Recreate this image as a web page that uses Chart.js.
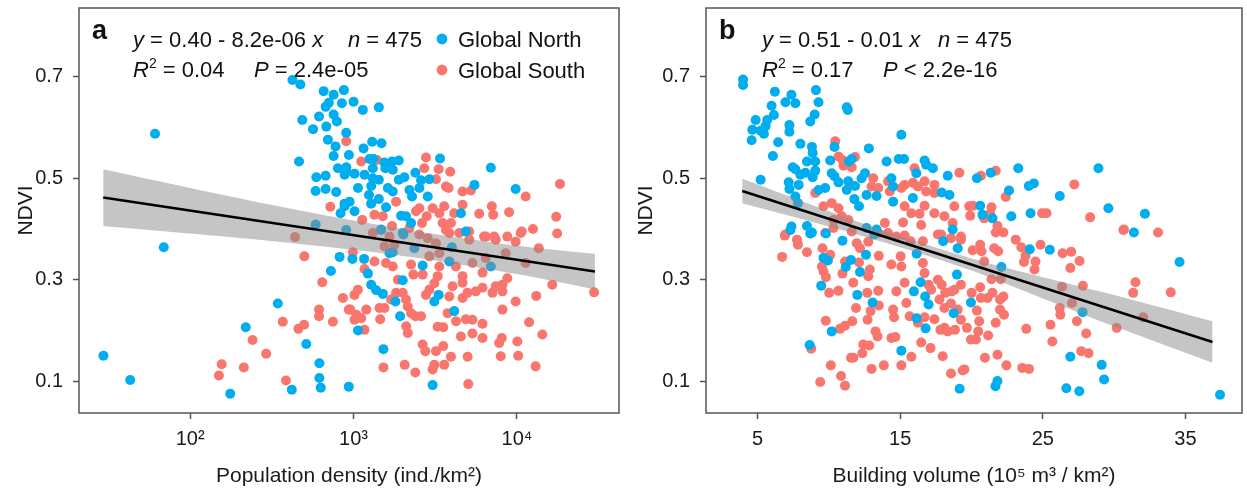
<!DOCTYPE html>
<html lang="en">
<head>
  <meta charset="UTF-8">
  <title>NDVI vs population density and building volume</title>
  <script src="https://cdn.jsdelivr.net/npm/chart.js"></script>
  <style>
    html, body { margin: 0; padding: 0; background: #fff; }
    #wrap { position: relative; width: 1247px; height: 492px; }
    .panel { position: absolute; top: 0; height: 492px; }
    #panelA { left: 0; width: 624px; }
    #panelB { left: 624px; width: 623px; }
  </style>
</head>
<body>
<div id="wrap">
  <div class="panel" id="panelA"><canvas id="chartA" width="624" height="492"></canvas></div>
  <div class="panel" id="panelB"><canvas id="chartB" width="623" height="492"></canvas></div>
</div>

<script>
const BLUE = "#00AEEF";
const RED = "#F8766D";
const FONT = "'Liberation Sans', Arial, sans-serif";

// ---- axis ticks ----
const ndviTicks = [0.1, 0.3, 0.5, 0.7];
const densityTicks = [100, 1000, 10000];
const densityTickLabels = ["10\u00B2", "10\u00B3", "10\u2074"];
const volumeTicks = [5, 15, 25, 35];

// ---- panel a: population density vs NDVI ----
const northA = [
  [61,0.588],[423,0.694],[473,0.685],[656,0.672],[755,0.665],[706,0.649],[675,0.641],[849,0.648],[486,0.615],[615,0.622],
  [755,0.626],[791,0.612],[681,0.602],[565,0.597],[697,0.576],[776,0.563],[755,0.544],[902,0.590],[464,0.533],[802,0.520],
  [902,0.513],[592,0.502],[675,0.505],[586,0.475],[675,0.479],[783,0.473],[881,0.450],[833,0.431],[586,0.409],[902,0.398],
  [69,0.364],[822,0.345],[727,0.317],[344,0.253],[219,0.206],[514,0.173],[29.5,0.150],[43,0.102],[176,0.075],[618,0.135],
  [618,0.106],[419,0.083],[630,0.087],[935,0.089],
  [984,0.341],[1161,0.341],[1225,0.312],[1282,0.290],[1376,0.279],[1511,0.272],[1805,0.257],[1927,0.228],[1065,0.200],[1524,0.163],
  [2000,0.299],[2648,0.328],[3318,0.270],[3120,0.257],[4130,0.238],[3048,0.092],[6918,0.326],[3855,0.336],[1660,0.352],[1738,0.354],
  [2018,0.389],[1476,0.398],[2355,0.362],[4000,0.364],[4864,0.395],
  [873,0.674],[1000,0.651],[1140,0.635],[1428,0.640],[1300,0.572],[1483,0.569],[1151,0.559],[937,0.546],[1253,0.538],[1325,0.538],
  [1312,0.520],[1545,0.531],[1721,0.533],[1892,0.535],[1567,0.520],[1738,0.517],[903,0.522],[882,0.507],[1014,0.509],[1167,0.507],
  [1065,0.481],[1312,0.500],[1428,0.497],[1282,0.485],[1622,0.481],[1738,0.474],[1428,0.459],[1242,0.467],[1282,0.450],[946,0.454],
  [882,0.445],[1014,0.435],[1581,0.443],[1954,0.426],[1892,0.497],[2047,0.502],[2388,0.511],[2198,0.477],[2280,0.464],[2529,0.481],
  [2588,0.496],[2844,0.464],[2910,0.498],[3381,0.539],[2249,0.412],[2094,0.425],[1476,0.399],[2000,0.392],[4540,0.431],[5495,0.487],
  [6918,0.521],[9817,0.479]
];
const southA = [
  [902,0.573],[721,0.444],[439,0.384],
  [500,0.346],[644,0.295],[861,0.264],[935,0.241],[615,0.241],[615,0.228],[369,0.217],[498,0.211],[460,0.203],[748,0.217],[241,0.181],
  [292,0.154],[156,0.133],[213,0.127],[150,0.111],[386,0.101],
  [1014,0.270],[1063,0.280],[955,0.241],[1040,0.231],[1014,0.221],[1114,0.224],[1197,0.241],[1167,0.201],[1442,0.244],[1546,0.244],
  [1455,0.222],[1698,0.261],[1820,0.274],[2000,0.274],[2094,0.261],[2146,0.247],[2249,0.234],[2390,0.228],[2588,0.228],[2098,0.208],
  [2148,0.195],[2648,0.172],[2748,0.159],[3194,0.159],[3540,0.169],[3945,0.148],[3589,0.132],[3120,0.132],[3048,0.123],[2388,0.117],
  [2056,0.132],[1524,0.127],[5035,0.094],[4990,0.148],[3272,0.207],[3540,0.206],[4240,0.218],[4864,0.222],[5340,0.221],[4540,0.188],
  [5340,0.194],[6155,0.185],[6155,0.213],[3765,0.234],[3855,0.267],[4645,0.264],[4980,0.274],[5600,0.277],[6155,0.284],[7080,0.274],
  [8150,0.277],[8730,0.303],[8150,0.290],[7413,0.287],[9817,0.257],[8150,0.241],[11860,0.216],[14290,0.192],[8070,0.185],[7780,0.175],
  [10050,0.178],[7960,0.149],[10180,0.150],[13000,0.129],[13120,0.268],[16440,0.290],[29650,0.275],[17620,0.391],[10540,0.392],[9817,0.375],
  [13600,0.362],[11300,0.333],[8530,0.352],[6155,0.314],[4645,0.294],[4645,0.307],[5340,0.333],[6440,0.343],[3350,0.326],[3272,0.307],
  [3120,0.293],[2910,0.280],[2775,0.270],[2648,0.310],[2323,0.310],[2249,0.330],[2910,0.346],[3350,0.352],[3194,0.372],[2844,0.382],
  [3855,0.392],[6440,0.385],[7413,0.379],[1778,0.369],[1546,0.366],[1343,0.336],[1167,0.321],[991,0.354],[1581,0.333],[1866,0.300],
  [1738,0.326],[1312,0.392],[1660,0.385],[2529,0.389],[3675,0.398],[5105,0.379],[4230,0.326],[4036,0.287],
  [1114,0.533],[1390,0.536],[2775,0.541],[2710,0.520],[3318,0.518],[3907,0.513],[3194,0.498],[3675,0.484],[3815,0.481],[4645,0.474],
  [5224,0.476],[4645,0.448],[4130,0.431],[3589,0.445],[3350,0.431],[3048,0.441],[2805,0.425],[2529,0.441],[2410,0.435],[1820,0.454],
  [1510,0.425],[1343,0.428],[1130,0.418],[1721,0.406],[2624,0.412],[3508,0.412],[3945,0.412],[5877,0.430],[7015,0.445],[7150,0.428],
  [8950,0.433],[11300,0.464],[17380,0.424],[18320,0.489],[10700,0.395],[12530,0.400],[5105,0.395],[6295,0.385],[7244,0.385],[8730,0.385],
  [4436,0.392],[2198,0.402]
];
const fitA_x = [29.4, 30000];
const fitA_y = [0.462, 0.316];
const bandA_x = [29.4, 100, 300, 1000, 3000, 10000, 30000];
const bandA_hi = [0.518, 0.481, 0.449, 0.417, 0.391, 0.367, 0.351];
const bandA_lo = [0.406, 0.391, 0.377, 0.359, 0.339, 0.311, 0.281];

// ---- panel b: building volume vs NDVI ----
const northB = [
  [3.98,0.695],[3.98,0.684],[6.21,0.671],[7.37,0.665],[6.95,0.650],[7.65,0.648],[9.09,0.674],[9.27,0.650],[9.00,0.626],[8.69,0.612],
  [11.25,0.640],[11.32,0.635],[5.98,0.643],[6.14,0.625],[5.67,0.615],[4.86,0.615],[5.56,0.603],[4.63,0.596],[5.21,0.594],[5.44,0.588],
  [4.58,0.575],[7.23,0.605],[7.23,0.592],[6.44,0.571],[6.07,0.544],[8.00,0.568],[8.81,0.562],[8.86,0.550],[8.46,0.533],[9.04,0.533],
  [7.46,0.522],[7.65,0.518],[8.00,0.507],[8.35,0.511],[9.04,0.515],[8.86,0.502],[5.21,0.497],[7.18,0.492],[7.88,0.487],[7.23,0.479],
  [9.27,0.477],[9.74,0.481],[10.09,0.535],[10.39,0.562],[11.41,0.533],[11.60,0.538],[10.20,0.510],[10.39,0.504],[10.67,0.492],[11.36,0.494],
  [11.83,0.485],[11.25,0.477],[12.80,0.559],[12.53,0.510],[12.29,0.500],[12.64,0.467],[11.78,0.459],[12.11,0.445],[13.34,0.465],[14.04,0.533],
  [14.38,0.500],[14.50,0.484],[15.08,0.586],[14.90,0.538],[15.27,0.538],[16.13,0.510],[16.71,0.535],[16.82,0.527],[17.29,0.520],[14.50,0.454],
  [15.89,0.461],[18.33,0.505],[18.45,0.467],[17.91,0.472],[7.65,0.464],[7.83,0.451],[7.37,0.405],[8.46,0.406],[8.76,0.392],[12.64,0.402],
  [13.34,0.399],[18.68,0.399],
  [20.38,0.500],[21.35,0.511],[23.28,0.520],[28.90,0.520],[22.63,0.476],[24.02,0.485],[24.37,0.490],[26.19,0.465],[20.61,0.446],[20.77,0.428],
  [21.47,0.421],[22.79,0.425],[24.14,0.431],[29.60,0.441],[32.16,0.430],[31.39,0.393],
  [7.30,0.398],[8.69,0.391],[8.81,0.393],[9.79,0.391],[10.95,0.377],[12.60,0.349],[9.62,0.343],[9.93,0.338],[11.55,0.339],[11.18,0.325],
  [12.18,0.315],[9.46,0.288],[11.99,0.270],[13.06,0.255],[10.20,0.198],[8.65,0.171],[15.08,0.160],[16.15,0.351],[13.18,0.389],[16.43,0.295],
  [15.96,0.277],[16.99,0.251],[16.75,0.267],[16.15,0.224],[16.78,0.204],[18.01,0.376],[19.03,0.362],[18.98,0.310],[18.75,0.234],[19.96,0.255],
  [19.17,0.085],
  [24.09,0.360],[25.49,0.359],[34.59,0.335],[22.10,0.325],[27.79,0.236],[26.93,0.148],[29.13,0.132],[29.30,0.103],[21.82,0.100],[21.68,0.090],
  [26.65,0.086],[27.56,0.080],[37.43,0.073]
];
const southB = [
  [10.44,0.573],[10.67,0.543],[10.95,0.536],[11.83,0.542],[11.60,0.522],[11.02,0.525],[9.04,0.471],[10.20,0.451],[10.67,0.441],[10.90,0.425],
  [10.32,0.418],[11.36,0.418],[13.11,0.500],[12.99,0.484],[13.46,0.481],[14.15,0.494],[14.27,0.474],[15.08,0.481],[15.31,0.487],[16.01,0.520],
  [15.89,0.491],[16.24,0.484],[16.71,0.494],[17.40,0.487],[16.82,0.474],[17.40,0.471],[15.31,0.445],[15.78,0.431],[16.36,0.430],[16.71,0.446],
  [17.40,0.431],[18.10,0.425],[18.68,0.412],[19.15,0.511],[18.80,0.445],[13.92,0.412],[14.15,0.392],[15.20,0.413],[16.47,0.408],[17.87,0.389],
  [19.26,0.385],[6.95,0.389],[9.74,0.392],[10.32,0.402],[11.60,0.395],[9.62,0.445],
  [20.66,0.505],[21.70,0.515],[27.21,0.488],[22.40,0.463],[19.84,0.445],[20.08,0.446],[21.40,0.443],[19.91,0.426],[20.89,0.421],[21.31,0.430],
  [24.95,0.431],[25.26,0.431],[28.32,0.423],[30.69,0.399],[33.08,0.393],[21.82,0.406],[21.70,0.393],[22.24,0.393],[23.10,0.379],
  [6.90,0.387],[6.72,0.345],[7.76,0.379],[7.83,0.369],[8.46,0.354],[9.55,0.362],[10.09,0.349],[9.51,0.326],[9.62,0.316],[9.79,0.305],
  [10.02,0.274],[10.67,0.278],[10.95,0.312],[11.13,0.336],[11.71,0.294],[12.11,0.334],[12.18,0.362],[11.95,0.372],[12.76,0.375],[12.87,0.320],
  [12.76,0.307],[13.50,0.347],[12.69,0.274],[13.46,0.278],[13.50,0.249],[12.92,0.238],[12.71,0.221],[11.90,0.244],[11.64,0.218],[9.78,0.219],
  [10.78,0.203],[11.13,0.209],[13.27,0.198],[13.41,0.188],[14.38,0.185],[14.66,0.187],[14.50,0.241],[14.57,0.226],[15.43,0.254],[14.73,0.277],
  [15.31,0.294],[15.03,0.346],[14.38,0.330],[15.08,0.326],[15.31,0.387],[15.73,0.376],[16.59,0.376],[16.59,0.333],[16.71,0.313],[16.99,0.290],
  [17.17,0.280],[17.64,0.300],[17.91,0.290],[18.15,0.274],[17.75,0.261],[18.10,0.244],[18.56,0.253],[19.03,0.241],[19.26,0.290],[18.80,0.280],
  [18.61,0.277],[15.66,0.228],[16.24,0.215],[16.71,0.226],[17.40,0.222],[17.82,0.201],[18.33,0.198],[18.10,0.205],[18.84,0.201],[19.26,0.221],
  [19.96,0.182],[16.47,0.176],[17.13,0.165],[17.98,0.149],[18.56,0.115],[19.38,0.121],[15.78,0.148],[15.08,0.131],[13.85,0.131],[12.99,0.124],
  [12.34,0.155],[11.71,0.146],[11.55,0.146],[12.41,0.172],[12.83,0.170],[10.85,0.110],[11.13,0.091],[9.39,0.098],[10.13,0.131],[8.76,0.164],
  [13.46,0.392],[14.73,0.385],[17.64,0.389],[18.56,0.382],[19.26,0.379],
  [23.49,0.364],[24.84,0.369],[20.61,0.369],[20.70,0.356],[20.08,0.358],[21.59,0.362],[21.87,0.356],[20.89,0.336],[23.79,0.347],[23.68,0.335],
  [24.49,0.336],[24.42,0.320],[26.39,0.352],[26.99,0.355],[27.58,0.337],[26.93,0.323],[21.40,0.301],[22.05,0.301],[20.61,0.285],[20.01,0.274],
  [21.47,0.274],[20.66,0.264],[21.12,0.264],[22.00,0.261],[22.24,0.267],[20.38,0.239],[22.00,0.241],[22.28,0.231],[20.54,0.218],[21.70,0.215],
  [19.68,0.205],[20.47,0.198],[21.17,0.190],[20.31,0.182],[23.84,0.203],[25.54,0.211],[25.67,0.178],[26.23,0.231],[26.19,0.244],[27.05,0.254],
  [26.35,0.286],[27.81,0.288],[27.39,0.218],[28.04,0.194],[27.70,0.159],[28.21,0.155],[20.94,0.146],[21.82,0.152],[22.45,0.131],[23.56,0.126],
  [24.03,0.124],[19.50,0.123],[30.18,0.205],[32.04,0.226],[31.50,0.295],[31.34,0.274],[33.97,0.275],[30.65,0.398]
];
const fitB_x = [3.92, 36.9];
const fitB_y = [0.475, 0.177];
const bandB_x = [3.92, 10, 15, 20, 25, 30, 36.9];
const bandB_hi = [0.499, 0.435, 0.386, 0.342, 0.305, 0.270, 0.218];
const bandB_lo = [0.451, 0.405, 0.364, 0.318, 0.263, 0.208, 0.136];

// ---- text in the panels ----
const notesA = {
  letter: { text: "a", x: 92, y: 39 },
  rows: [
    { x: 133, y: 47, runs: [["y","i"],[" = 0.40 - 8.2e-06 ","n"],["x","i"]] },
    { x: 348, y: 47, runs: [["n","i"],[" = 475","n"]] },
    { x: 133, y: 77, runs: [["R","i"],["2","sup"],[" = 0.04","n"]] },
    { x: 254, y: 77, runs: [["P","i"],[" = 2.4e-05","n"]] }
  ],
  legend: [
    { label: "Global North", color: BLUE, x: 442, y: 39 },
    { label: "Global South", color: RED, x: 442, y: 70 }
  ]
};
const notesB = {
  letter: { text: "b", x: 95, y: 39 },
  rows: [
    { x: 138, y: 47, runs: [["y","i"],[" = 0.51 - 0.01 ","n"],["x","i"]] },
    { x: 314, y: 47, runs: [["n","i"],[" = 475","n"]] },
    { x: 138, y: 77, runs: [["R","i"],["2","sup"],[" = 0.17","n"]] },
    { x: 259, y: 77, runs: [["P","i"],[" < 2.2e-16","n"]] }
  ],
  legend: []
};

const notesPlugin = {
  id: "notes",
  afterDraw(chart, args, opts) {
    const ctx = chart.ctx;
    const a = chart.chartArea;
    ctx.save();
    // frame
    ctx.strokeStyle = "#555";
    ctx.lineWidth = 1.5;
    ctx.strokeRect(a.left, a.top, a.right - a.left, a.bottom - a.top);
    ctx.fillStyle = "#111";
    ctx.textBaseline = "alphabetic";
    ctx.font = "bold 27px " + FONT;
    ctx.fillText(opts.letter.text, opts.letter.x, opts.letter.y);
    const size = 22;
    opts.rows.forEach(row => {
      let x = row.x;
      row.runs.forEach(([t, s]) => {
        let y = row.y;
        if (s === "sup") {
          ctx.font = Math.round(size * 0.65) + "px " + FONT;
          y -= size * 0.42;
        } else {
          ctx.font = (s === "i" ? "italic " : "") + size + "px " + FONT;
        }
        ctx.fillText(t, x, y);
        x += ctx.measureText(t).width;
      });
    });
    opts.legend.forEach(item => {
      ctx.fillStyle = item.color;
      ctx.beginPath();
      ctx.arc(item.x, item.y, 5.4, 0, Math.PI * 2);
      ctx.fill();
      ctx.fillStyle = "#111";
      ctx.font = size + "px " + FONT;
      ctx.fillText(item.label, item.x + 16, item.y + 8);
    });
    ctx.restore();
  }
};

function pts(list) {
  return list.map(p => ({ x: p[0], y: p[1] }));
}
function pairs(xs, ys) {
  return xs.map((x, i) => ({ x: x, y: ys[i] }));
}

function makeChart(id, cfg) {
  const tickFont = { size: 20, family: FONT };
  return new Chart(document.getElementById(id), {
    type: "scatter",
    data: {
      datasets: [
        { type: "line", data: pairs(cfg.fitX, cfg.fitY), borderColor: "#000", borderWidth: 2.6,
          pointRadius: 0, fill: false, order: 0 },
        { type: "line", data: pairs(cfg.bandX, cfg.bandHi), borderWidth: 0, pointRadius: 0,
          backgroundColor: "rgba(140,140,140,0.5)", fill: "+1", tension: 0.3, order: 1 },
        { type: "line", data: pairs(cfg.bandX, cfg.bandLo), borderWidth: 0, pointRadius: 0,
          fill: false, tension: 0.3, order: 1 },
        { label: "Global North", data: pts(cfg.north), backgroundColor: BLUE, borderWidth: 0,
          pointRadius: 5, pointHoverRadius: 5, order: 2 },
        { label: "Global South", data: pts(cfg.south), backgroundColor: RED, borderWidth: 0,
          pointRadius: 5, pointHoverRadius: 5, order: 3 }
      ]
    },
    options: {
      responsive: false,
      animation: false,
      layout: { padding: { left: 0, right: cfg.padRight, top: 8, bottom: 0 } },
      plugins: { legend: { display: false }, tooltip: { enabled: false }, notes: cfg.notes },
      scales: {
        x: Object.assign({
          grid: { drawOnChartArea: false, drawTicks: true, tickLength: 6, tickColor: "#555", tickWidth: 1.5 },
          border: { display: false },
          title: { display: true, text: cfg.xTitle, color: "#1a1a1a", font: { size: 21, family: FONT },
                   padding: { top: 0, bottom: 3 } },
          afterFit: s => { s.height = 79; s.paddingLeft = 0; s.paddingRight = 0; }
        }, cfg.xScale),
        y: {
          type: "linear", min: 0.037, max: 0.836,
          afterBuildTicks: s => { s.ticks = ndviTicks.map(v => ({ value: v })); },
          ticks: { callback: v => v.toFixed(1), color: "#1a1a1a", font: tickFont, padding: 10 },
          grid: { drawOnChartArea: false, drawTicks: true, tickLength: 6, tickColor: "#555", tickWidth: 1.5 },
          border: { display: false },
          title: { display: true, text: "NDVI", color: "#1a1a1a", font: { size: 21, family: FONT },
                   padding: { top: cfg.yTitlePad, bottom: 0 } },
          afterFit: s => { s.width = cfg.yWidth; s.paddingTop = 0; s.paddingBottom = 0; }
        }
      }
    },
    plugins: [notesPlugin]
  });
}

makeChart("chartA", {
  north: northA, south: southA,
  fitX: fitA_x, fitY: fitA_y, bandX: bandA_x, bandHi: bandA_hi, bandLo: bandA_lo,
  xTitle: "Population density (ind./km\u00B2)",
  xScale: {
    type: "logarithmic", min: 20.9, max: 42100,
    afterBuildTicks: s => { s.ticks = densityTicks.map(v => ({ value: v })); },
    ticks: { callback: (v, i) => densityTickLabels[i], color: "#1a1a1a",
             font: { size: 20, family: FONT }, padding: 8, autoSkip: false, maxRotation: 0 }
  },
  yWidth: 79, yTitlePad: 14, padRight: 5, notes: notesA
});

makeChart("chartB", {
  north: northB, south: southB,
  fitX: fitB_x, fitY: fitB_y, bandX: bandB_x, bandHi: bandB_hi, bandLo: bandB_lo,
  xTitle: "Building volume (10\u2075 m\u00B3 / km\u00B2)",
  xScale: {
    type: "linear", min: 1.38, max: 38.97,
    afterBuildTicks: s => { s.ticks = volumeTicks.map(v => ({ value: v })); },
    ticks: { callback: v => String(v), color: "#1a1a1a",
             font: { size: 20, family: FONT }, padding: 8, autoSkip: false, maxRotation: 0 }
  },
  yWidth: 82, yTitlePad: 10, padRight: 2, notes: notesB
});
</script>
</body>
</html>
